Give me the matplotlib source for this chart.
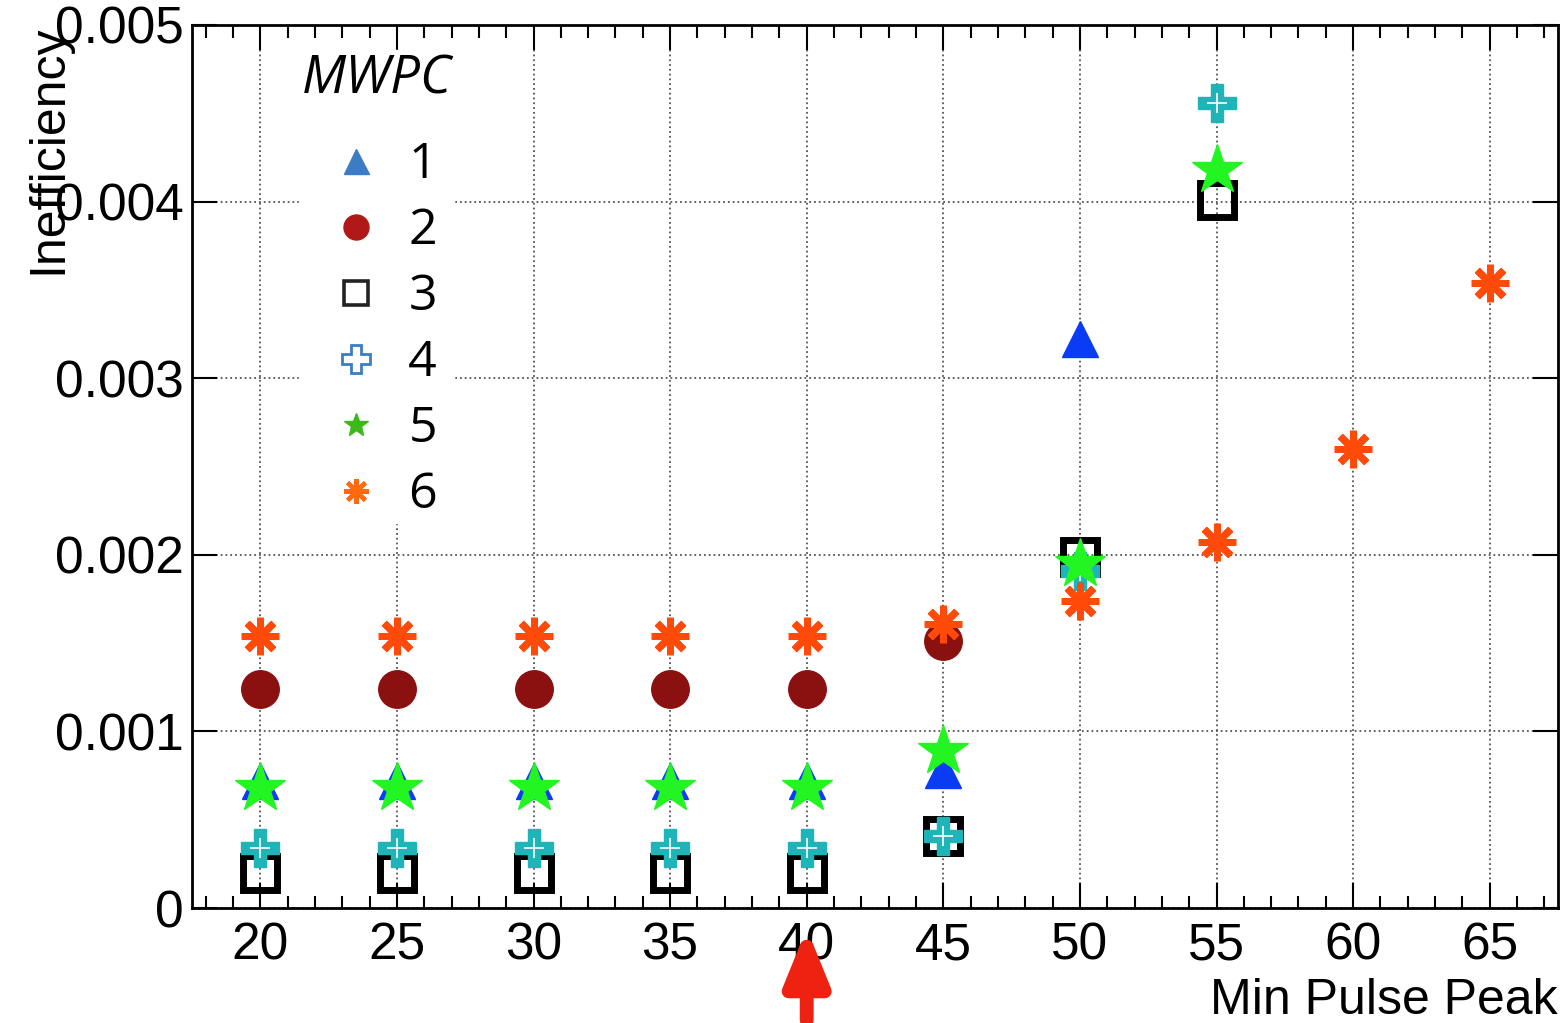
import matplotlib
matplotlib.use("Agg")
import matplotlib.pyplot as plt
from matplotlib.lines import Line2D
from matplotlib.markers import MarkerStyle
from matplotlib.ticker import MultipleLocator

# Inefficiency per MWPC plane vs. minimum pulse peak cut
peak_20_45 = [20, 25, 30, 35, 40, 45]
peak_20_50 = [20, 25, 30, 35, 40, 45, 50]
peak_20_55 = [20, 25, 30, 35, 40, 45, 50, 55]
peak_20_65 = [20, 25, 30, 35, 40, 45, 50, 55, 60, 65]

ineff_1 = [0.00072, 0.00072, 0.00072, 0.00072, 0.00072, 0.00078, 0.00322]
ineff_2 = [0.00124, 0.00124, 0.00124, 0.00124, 0.00124, 0.00151]
ineff_3 = [0.00020, 0.00020, 0.00020, 0.00020, 0.00020, 0.00041, 0.00199, 0.00401]
ineff_4 = [0.00034, 0.00034, 0.00034, 0.00034, 0.00034, 0.00041, 0.00191, 0.00456]
ineff_5 = [0.00068, 0.00068, 0.00068, 0.00068, 0.00068, 0.00089, 0.00195, 0.00418]
ineff_6 = [0.00154, 0.00154, 0.00154, 0.00154, 0.00154, 0.00161, 0.00174,
           0.00207, 0.00260, 0.00354]

labels = ["1", "2", "3", "4", "5", "6"]
chosen_cut = 40

plt.rcParams["font.family"] = ["Liberation Sans", "DejaVu Sans"]

asterisk = MarkerStyle((8, 2, 0), capstyle="round")

fig = plt.figure(figsize=(15.63, 10.23), dpi=100)
ax = fig.add_axes([192 / 1563, 1 - 908 / 1023, 1366 / 1563, 883 / 1023])

ax.plot(peak_20_55, ineff_3, ls="none", marker="s", ms=24, mfc="none",
        mec="black", mew=5, zorder=3)
ax.plot(peak_20_50, ineff_1, ls="none", marker="^", ms=26, color="#0a3cf5",
        mec="#0a3cf5", zorder=4)
ax.plot(peak_20_45, ineff_2, ls="none", marker="o", ms=27, color="#8b1010",
        mec="#8b1010", zorder=4)
ax.plot(peak_20_55, ineff_4, ls="none", marker="P", ms=27, color="#1fb5b8",
        mec="#1fb5b8", zorder=5)
ax.plot(peak_20_55, ineff_4, ls="none", marker="+", ms=14, mec="white",
        mew=1.2, zorder=5)
ax.plot(peak_20_55, ineff_5, ls="none", marker="*", ms=38, color="#22f522",
        mec="#22f522", zorder=6)
ax.plot(peak_20_65, ineff_6, ls="none", marker=asterisk, ms=27,
        mec="#ff4a0a", mew=5, zorder=7)

ax.set_xlim(17.5, 67.5)
ax.set_ylim(0, 0.005)
ax.xaxis.set_major_locator(MultipleLocator(5))
ax.xaxis.set_minor_locator(MultipleLocator(1))
ax.set_yticks([0, 0.001, 0.002, 0.003, 0.004, 0.005])
ax.set_yticklabels(["0", "0.001", "0.002", "0.003", "0.004", "0.005"])

ax.tick_params(which="both", direction="in", top=True, right=True,
               labelsize=37, width=1.5)
ax.tick_params(which="major", length=18)
ax.tick_params(which="minor", length=9)
ax.tick_params(axis="x", pad=10)
ax.tick_params(axis="y", pad=6)
for sp in ax.spines.values():
    sp.set_linewidth(2)

ax.grid(True, which="major", ls=":", color="#555555", lw=1.3)
ax.set_axisbelow(True)

ax.set_ylabel("Inefficiency", fontsize=36)
ax.yaxis.set_label_coords(-0.088, 1.0)
ax.yaxis.label.set_horizontalalignment("right")
ax.set_xlabel("Min Pulse Peak", fontsize=36)
ax.xaxis.set_label_coords(1.0, -0.079)
ax.xaxis.label.set_horizontalalignment("right")

# legend as in the original (small markers, calibri-like font)
handles = [
    Line2D([], [], ls="none", marker="^", ms=18, color="#3b7dc4"),
    Line2D([], [], ls="none", marker="o", ms=18, color="#b01818"),
    Line2D([], [], ls="none", marker="s", ms=17, mfc="none", mec="#222222", mew=2.6),
    Line2D([], [], ls="none", marker="P", ms=20, mfc="white", mec="#3b7dc4", mew=2),
    Line2D([], [], ls="none", marker="*", ms=18, color="#3cb81a"),
    Line2D([], [], ls="none", marker=asterisk, ms=18, mec="#ff6a10", mew=3),
]
leg = ax.legend(handles, labels, title="MWPC", loc="upper left",
                bbox_to_anchor=(0.06, 1.0), frameon=True, fancybox=False,
                edgecolor="white", framealpha=1.0,
                labelspacing=0.33, handletextpad=0.25, handlelength=1.6,
                borderpad=0.05,
                prop={"family": "Open Sans", "size": 36})
leg.get_title().set_fontstyle("italic")
leg.get_title().set_family("Open Sans")
leg.get_title().set_fontsize(38)
leg._legend_box.sep = 25  # extra gap between title and entries
leg.set_zorder(10)

# red arrow marking the chosen cut
ax.annotate("", xy=(chosen_cut, -0.02), xytext=(chosen_cut, -0.13),
            xycoords=("data", "axes fraction"),
            textcoords=("data", "axes fraction"),
            arrowprops=dict(arrowstyle="-|>,head_width=1.3,head_length=3.2",
                            color="#ee2211", lw=10),
            annotation_clip=False)

fig.savefig("out.png", dpi=100)
